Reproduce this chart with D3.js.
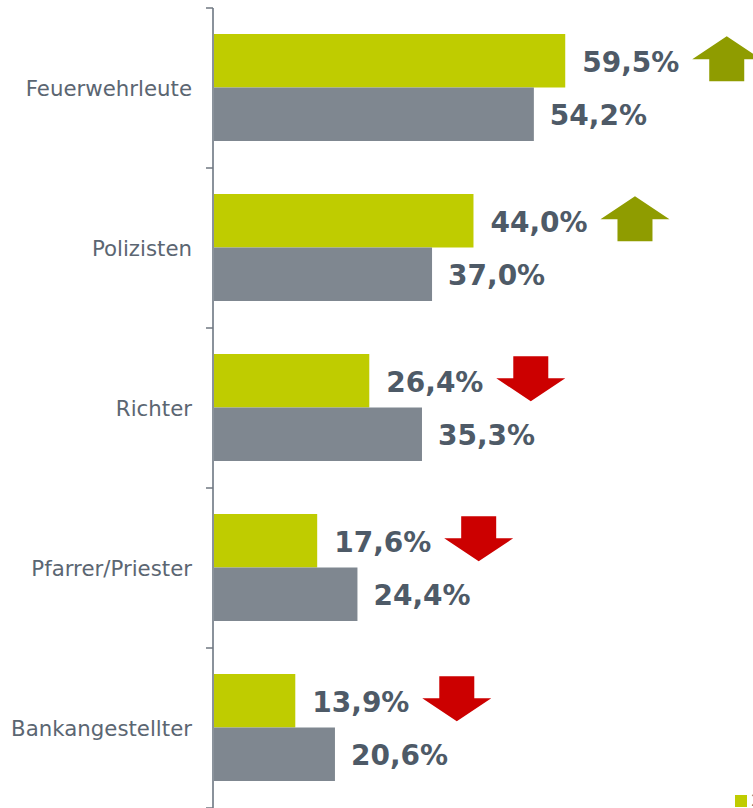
<!DOCTYPE html>
<html><head><meta charset="utf-8">
<script src="https://cdn.jsdelivr.net/npm/d3@7"></script>
<style>html,body{margin:0;padding:0;background:#fff;overflow:hidden}</style>
</head><body>
<svg id="c" width="753" height="808"></svg>
<script>
const categories = ["Feuerwehrleute","Polizisten","Richter","Pfarrer/Priester","Bankangestellter"];
const current = [59.5, 44.0, 26.4, 17.6, 13.9];
const previous = [54.2, 37.0, 35.3, 24.4, 20.6];
const trend = ["up","up","down","down","down"];
const legendLabels = ["2015"];

const svg = d3.select("#c");
const x = d3.scaleLinear().domain([0,100]).range([213, 805]);
const y = d3.scaleBand().domain(categories).range([8, 808]);
const sub = d3.scaleBand().domain(["cur","prev"]).range([26, 133]);

const fmt = v => d3.format(".1f")(v).replace(".", ",") + "%";

const g = svg.append("g");
categories.forEach((c,i)=>{
  const y0 = y(c);
  g.append("rect").attr("x", x(0)).attr("y", y0+sub("cur")).attr("width", x(current[i])-x(0)).attr("height", sub.bandwidth()).attr("fill","#bfcc00");
  g.append("rect").attr("x", x(0)).attr("y", y0+sub("prev")).attr("width", x(previous[i])-x(0)).attr("height", sub.bandwidth()).attr("fill","#7f8790");
  g.append("text").attr("x", x(current[i])+17).attr("y", y0+sub("cur")+sub.bandwidth()/2+1).attr("dy","0.36em")
    .attr("font-family","DejaVu Sans, Verdana, sans-serif").attr("font-weight","bold").attr("font-size","28px").attr("fill","#4e5a67").text(fmt(current[i]));
  g.append("text").attr("x", x(previous[i])+16).attr("y", y0+sub("prev")+sub.bandwidth()/2+1).attr("dy","0.36em")
    .attr("font-family","DejaVu Sans, Verdana, sans-serif").attr("font-weight","bold").attr("font-size","28px").attr("fill","#4e5a67").text(fmt(previous[i]));
  const ax = x(current[i]) + 127;
  const cy = y0 + sub("cur") + sub.bandwidth()/2 - 2;
  const w = 69, hh = 23, H = 45, sw = 35;
  const t = cy - H/2;
  if (trend[i]==="up") {
    const p = `M${ax},${t+hh} L${ax+w/2},${t} L${ax+w},${t+hh} L${ax+w/2+sw/2},${t+hh} L${ax+w/2+sw/2},${t+H} L${ax+w/2-sw/2},${t+H} L${ax+w/2-sw/2},${t+hh} Z`;
    g.append("path").attr("d",p).attr("fill","#8f9c00");
  } else {
    const p = `M${ax+w/2-sw/2},${t} L${ax+w/2+sw/2},${t} L${ax+w/2+sw/2},${t+H-hh} L${ax+w},${t+H-hh} L${ax+w/2},${t+H} L${ax},${t+H-hh} L${ax+w/2-sw/2},${t+H-hh} Z`;
    g.append("path").attr("d",p).attr("fill","#cc0000");
  }
});

const ag = svg.append("g").attr("transform","translate(213,0)");
ag.append("line").attr("x1",0).attr("x2",0).attr("y1",8).attr("y2",808).attr("stroke","#8a929b").attr("stroke-width",2);
const bounds = categories.map(c=>y(c)).concat([y.range()[1]]);
ag.selectAll("line.tk").data(bounds).join("line").attr("class","tk")
  .attr("x1",-7).attr("x2",0).attr("y1",d=>d).attr("y2",d=>d).attr("stroke","#6f7780").attr("stroke-width",1.5);
ag.selectAll("text.lbl").data(categories).join("text").attr("class","lbl")
  .attr("x",-21).attr("y",d=>y(d)+y.bandwidth()/2+1).attr("dy","0.35em").attr("text-anchor","end")
  .attr("font-family","DejaVu Sans, Verdana, sans-serif").attr("font-size","21.3px").attr("fill","#5b6672").text(d=>d);

svg.append("rect").attr("x",735).attr("y",795).attr("width",12).attr("height",12).attr("fill","#bfcc00");
svg.append("text").attr("x",751).attr("y",806).attr("font-family","DejaVu Sans, Verdana, sans-serif").attr("font-size","16px").attr("fill","#5b6672").text(legendLabels[0]);
</script>
</body></html>
